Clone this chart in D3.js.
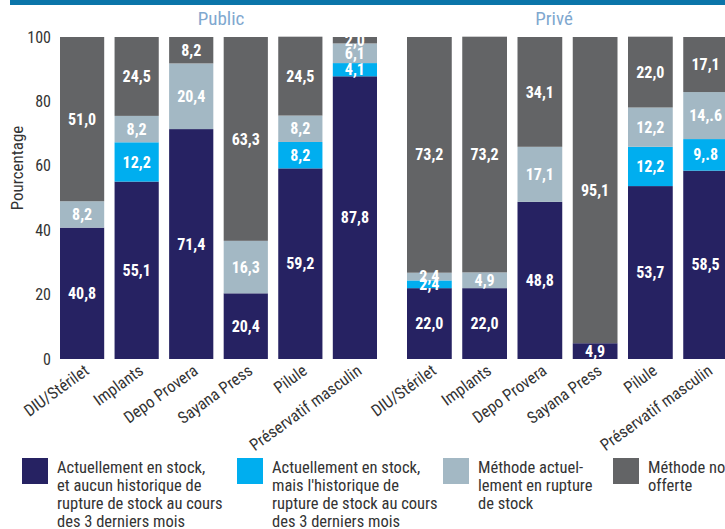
<!DOCTYPE html>
<meta charset="utf-8">
<style>
  body { margin: 0; background: #fff; }
  svg text { font-family: "Roboto Condensed", "Liberation Sans Narrow", "DejaVu Sans Condensed", "DejaVu Sans", sans-serif; font-stretch: condensed; }
  .tick text { font-size: 16px; fill: #333; }
  .val { font-size: 16px; font-weight: bold; fill: #fff; text-anchor: middle; }
  .cat { font-size: 16.5px; fill: #333; text-anchor: end; }
  .leg { font-size: 16.5px; fill: #333; }
</style>
<svg width="725" height="529"></svg>
<script src="https://d3js.org/d3.v7.min.js"></script>
<script>
  var categories = ["DIU/Stérilet", "Implants", "Depo Provera", "Sayana Press", "Pilule", "Préservatif masculin"];
  var panels = ["Public", "Privé"];
  var yTicks = [0, 20, 40, 60, 80, 100];

  // Public
  var publicStock = [40.8, 55.1, 71.4, 20.4, 59.2, 87.8];
  var publicStockHist = [0, 12.2, 0, 0, 8.2, 4.1];
  var publicRupture = [8.2, 8.2, 20.4, 16.3, 8.2, 6.1];
  var publicNonOfferte = [51.0, 24.5, 8.2, 63.3, 24.5, 2.0];

  // Privé
  var priveStock = [22.0, 22.0, 48.8, 4.9, 53.7, 58.5];
  var priveStockHist = [2.4, 0, 0, 0, 12.2, 9.8];
  var priveRupture = [2.4, 4.9, 17.1, 0, 12.2, 14.6];
  var priveNonOfferte = [73.2, 73.2, 34.1, 95.1, 22.0, 17.1];

  // labels as printed in the source (typos kept)
  var priveLabelText = { "Préservatif masculin|hist": "9,.8", "Préservatif masculin|rupt": "14,.6" };

  var keys = ["stock", "hist", "rupt", "non"];
  var colors = ["#262262", "#00aeef", "#a3b8c4", "#636466"];
  var legendLines = [
    ["Actuellement en stock,", "et aucun historique de", "rupture de stock au cours", "des 3 derniers mois"],
    ["Actuellement en stock,", "mais l'historique de", "rupture de stock au cours", "des 3 derniers mois"],
    ["Méthode actuel-", "lement en rupture", "de stock"],
    ["Méthode non", "offerte"]
  ];

  var svg = d3.select("svg");

  svg.append("rect")
    .attr("x", 10).attr("y", 0)
    .attr("width", 715).attr("height", 5)
    .attr("fill", "#0b75a9");

  var y = d3.scaleLinear().domain([0, 100]).range([359, 37]);
  var color = d3.scaleOrdinal().domain(keys).range(colors);

  function rows(a, b, c, d) {
    return categories.map(function(cat, i) {
      return { cat: cat, stock: a[i], hist: b[i], rupt: c[i], non: d[i] };
    });
  }

  var panelData = [
    { name: "Public", data: rows(publicStock, publicStockHist, publicRupture, publicNonOfferte), range: [60, 377], titleX: 221, labels: {} },
    { name: "Privé", data: rows(priveStock, priveStockHist, priveRupture, priveNonOfferte), range: [407, 728], titleX: 554, labels: priveLabelText }
  ];

  var fmt = function(v) { return d3.format(".1f")(v).replace(".", ","); };

  // y axis
  var yAxis = svg.append("g")
    .attr("transform", "translate(60,0)")
    .call(d3.axisLeft(y).tickValues(yTicks).tickSize(0).tickPadding(9));
  yAxis.select(".domain").remove();

  svg.append("text")
    .attr("transform", "translate(23,168) rotate(-90)")
    .attr("text-anchor", "middle")
    .style("font-size", "17px")
    .style("fill", "#333")
    .text("Pourcentage");

  var stack = d3.stack().keys(keys);

  panelData.forEach(function(p) {
    var x = d3.scaleBand().domain(categories).range(p.range).paddingInner(0.19).paddingOuter(0);
    var g = svg.append("g");

    g.append("text")
      .attr("x", p.titleX).attr("y", 25)
      .attr("text-anchor", "middle")
      .style("font-size", "19px")
      .style("fill", "#7fa8cf")
      .text(p.name);

    var series = stack(p.data);

    g.selectAll(".layer")
      .data(series)
      .enter().append("g")
      .attr("fill", function(d) { return color(d.key); })
      .selectAll("rect")
      .data(function(d) { return d; })
      .enter().append("rect")
      .attr("x", function(d) { return x(d.data.cat); })
      .attr("y", function(d) { return y(d[1]); })
      .attr("width", x.bandwidth())
      .attr("height", function(d) { return y(d[0]) - y(d[1]); });

    series.forEach(function(s) {
      s.forEach(function(d) {
        var v = d[1] - d[0];
        if (v <= 0) return;
        var txt = p.labels[d.data.cat + "|" + s.key] || fmt(v);
        g.append("text")
          .attr("class", "val")
          .attr("x", x(d.data.cat) + x.bandwidth() / 2)
          .attr("y", y((d[0] + d[1]) / 2))
          .attr("dy", "0.35em")
          .text(txt);
      });
    });

    g.selectAll(".cat")
      .data(categories)
      .enter().append("text")
      .attr("class", "cat")
      .attr("transform", function(d) {
        return "translate(" + (x(d) + x.bandwidth() / 2 + 8) + ",373) rotate(-36)";
      })
      .text(function(d) { return d; });
  });

  // legend
  var legX = [22, 237, 443, 613];
  var leg = svg.selectAll(".legend")
    .data(keys)
    .enter().append("g")
    .attr("transform", function(d, i) { return "translate(" + legX[i] + ",458)"; });

  leg.append("rect")
    .attr("width", 26).attr("height", 26)
    .attr("fill", function(d) { return color(d); });

  leg.each(function(d, i) {
    var t = d3.select(this).append("text").attr("class", "leg");
    legendLines[i].forEach(function(line, j) {
      t.append("tspan").attr("x", 35).attr("y", 15 + j * 18).text(line);
    });
  });
</script>
